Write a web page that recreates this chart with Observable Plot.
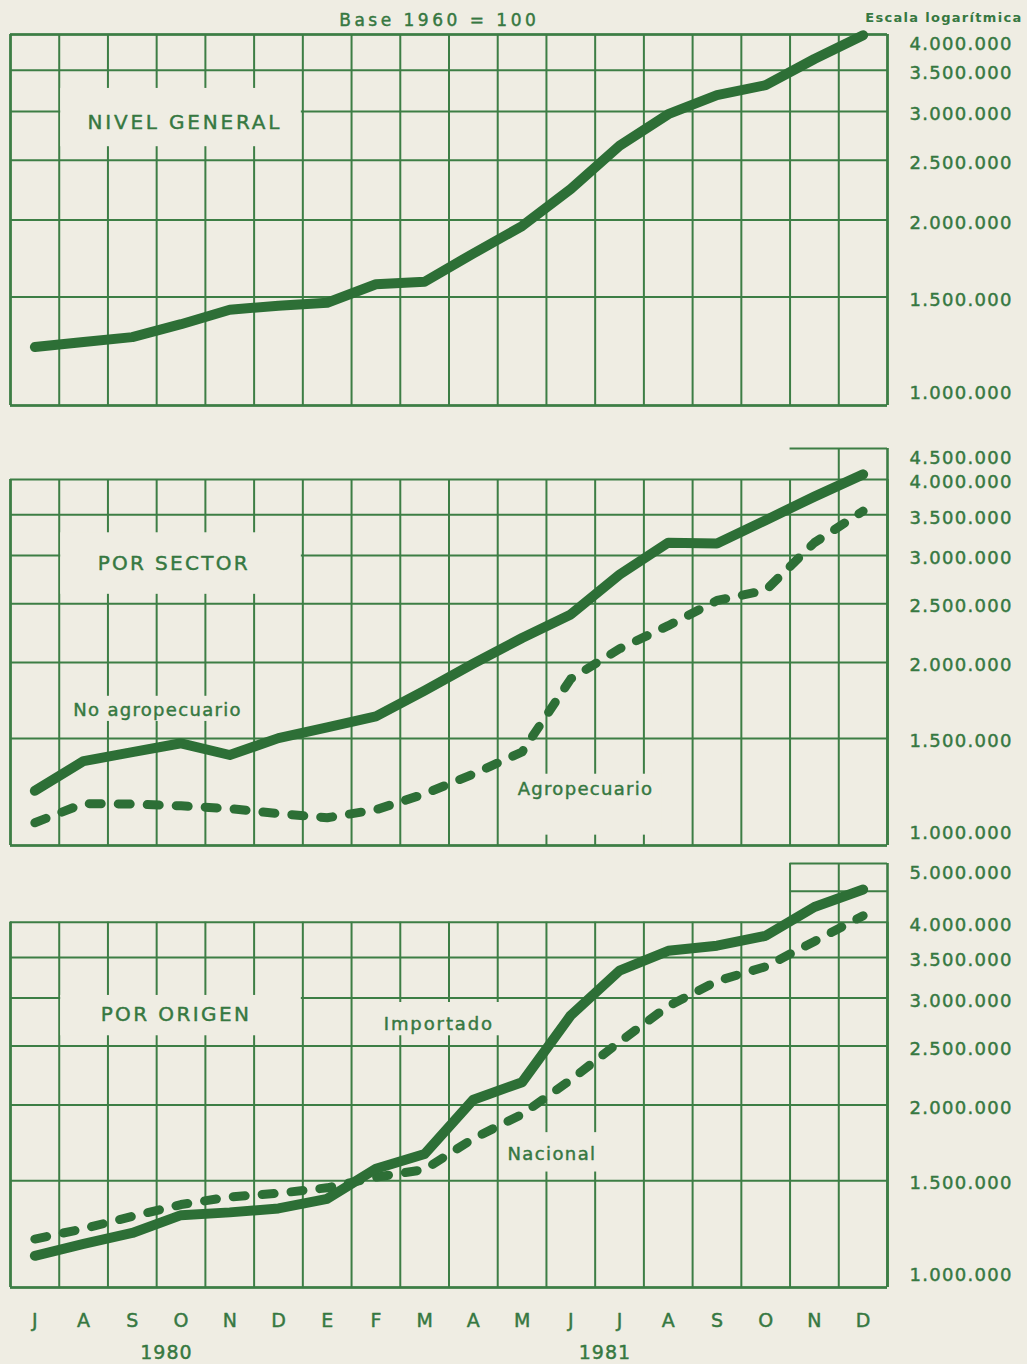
<!DOCTYPE html>
<html><head><meta charset="utf-8">
<script src="https://cdn.jsdelivr.net/npm/d3@7"></script>
<script src="https://cdn.jsdelivr.net/npm/@observablehq/plot@0.6"></script>
<style>
html,body{margin:0;padding:0;background:#efede3;}
#chart{width:1027px;}
#chart svg{display:block;}
</style></head><body><div id="chart"></div>
<script>
// ---- data ----
const months = ["J","A","S","O","N","D","E","F","M","A","M","J","J","A","S","O","N","D"];
const years = ["1980","1981"];
const monthsPerYear = [6, 12];

const nivelGeneral   = [1244000,1268000,1291000,1355000,1430000,1452000,1468000,1573000,1588000,1765000,1955000,2245000,2640000,2970000,3190000,3310000,3650000,3990000];
const noAgropecuario = [1230000,1377000,1424000,1473000,1409000,1502000,1565000,1631000,1798000,1991000,2195000,2400000,2790000,3150000,3140000,3430000,3750000,4080000];
const agropecuario   = [1090000,1172000,1170000,1162000,1150000,1128000,1111000,1145000,1216000,1311000,1425000,1880000,2107000,2300000,2530000,2630000,3150000,3550000];
const importado      = [1128000,1180000,1230000,1316000,1330000,1350000,1400000,1570000,1660000,2040000,2180000,2810000,3330000,3590000,3660000,3800000,4240000,4530000];
const nacional       = [1202000,1250000,1310000,1370000,1410000,1430000,1460000,1520000,1565000,1760000,1930000,2200000,2540000,2910000,3200000,3380000,3720000,4100000];

const ticks1 = [1000000,1500000,2000000,2500000,3000000,3500000,4000000];
const ticks2 = [1000000,1500000,2000000,2500000,3000000,3500000,4000000,4500000];
const ticks3 = [1000000,1500000,2000000,2500000,3000000,3500000,4000000,5000000];

// ---- style ----
const BG = "#efede3", GRID = "#3d7e45", LINE = "#2d6f36", TXT = "#367841";
const FONT = "DejaVu Sans, sans-serif";
const TW = 0.45; // text stroke to thicken the lettering
const N = months.length;
const cols = d3.range(N + 1);
const fmt = d3.formatLocale({decimal: ",", thousands: ".", grouping: [3], currency: ["", ""]}).format(",d");
const xi = (d, i) => i + 0.5;
const txt = {fill: TXT, stroke: TXT, strokeWidth: TW, fontFamily: FONT};

function tickLabels(ticks) {
  const lo = ticks[0], hi = ticks[ticks.length - 1];
  const c = {...txt, x: N, y: d => d, text: d => fmt(d), dx: 22, textAnchor: "start", fontSize: 18};
  return [
    Plot.text(ticks.filter(t => t === lo), {...c, dy: -12}),
    Plot.text(ticks.filter(t => t > lo && t < hi), {...c, dy: 3}),
    Plot.text(ticks.filter(t => t === hi), {...c, dy: 10})
  ];
}
function grid(values, x1, x2, w = 2) {
  return Plot.ruleY(values, {x1, x2, y: d => d, stroke: GRID, strokeWidth: w});
}
function verticals(cs, top) {
  return Plot.ruleX(cs, {x: d => d, y1: 1000000, y2: top, stroke: GRID, strokeWidth: 2});
}
function frameEdges(top) {
  return [
    Plot.ruleX([0, N], {x: d => d, y1: 1000000, y2: top, stroke: GRID, strokeWidth: 2.6}),
    Plot.ruleY([1000000], {x1: 0, x2: N, y: d => d, stroke: GRID, strokeWidth: 2.6})
  ];
}
function blank(x1, x2, y1, y2) {
  return Plot.rect([0], {x1, x2, y1, y2, fill: BG, insetLeft: 1.5, insetRight: 1.5});
}
function label(t, x, y, size = 18) {
  return Plot.text([t], {...txt, x, y, text: d => d, textAnchor: "start", fontSize: size});
}
function solid(data) {
  return Plot.line(data, {x: xi, y: d => d, stroke: LINE, strokeWidth: 10, strokeLinecap: "round", strokeLinejoin: "round"});
}
function dashed(data) {
  return Plot.line(data, {x: xi, y: d => d, stroke: LINE, strokeWidth: 9, strokeLinecap: "round", strokeLinejoin: "round", strokeDasharray: "12,17"});
}
function base(height, mt, mb, top, marks) {
  return Plot.plot({
    width: 1027, height, marginLeft: 10, marginRight: 140, marginTop: mt, marginBottom: mb,
    style: {background: BG, fontFamily: FONT, overflow: "visible"},
    x: {domain: [0, N], axis: null},
    y: {type: "log", domain: [1000000, top], axis: null},
    marks
  });
}

// ---- panel 1 ----
const p1 = base(430, 34, 25, 4000000, [
  grid(ticks1, 0, N),
  verticals(cols, 4000000),
  ...frameEdges(4000000),
  grid([4000000], 0, N, 2.6),
  blank(1, 6, 2630000, 3270000),
  label("NIVEL GENERAL", 1.58, 2880000, 20),
  solid(nivelGeneral),
  ...tickLabels(ticks1),
  Plot.text(["Base 1960 = 100"], {...txt, x: 8.8, y: 4000000, dy: -14, text: d => d, fontSize: 17}),
  Plot.text(["Escala logarítmica"], {...txt, stroke: null, x: N, y: 4000000, dx: 135, dy: -17, text: d => d, textAnchor: "end", fontSize: 13, fontWeight: "bold"})
]);

// ---- panel 2 ----
const p2 = base(425, 18, 10, 4500000, [
  grid(ticks2.filter(t => t < 4500000), 0, N),
  grid([4500000], N - 2, N),
  verticals(cols.filter(c => c < N - 1), 4000000),
  verticals([N - 1], 4500000),
  ...frameEdges(4000000),
  Plot.ruleX([N], {x: d => d, y1: 1000000, y2: 4500000, stroke: GRID, strokeWidth: 2.6}),
  blank(1, 6, 2590000, 3270000),
  blank(1.2, 4.9, 1600000, 1760000),
  blank(10.3, 13.4, 1040000, 1310000),
  label("POR SECTOR", 1.79, 2910000, 20),
  label("No agropecuario", 1.29, 1670000),
  label("Agropecuario", 10.41, 1239000),
  dashed(agropecuario),
  solid(noAgropecuario),
  ...tickLabels(ticks2)
]);

// ---- panel 3 ----
const yearStarts = d3.cumsum([0, ...monthsPerYear]);
const yearCenters = years.map((y, i) => yearStarts[i] + monthsPerYear[i] / 2);
const p3 = base(509, 8, 77, 5000000, [
  grid(ticks3.filter(t => t <= 4000000), 0, N),
  grid([4500000, 5000000], N - 2, N),
  verticals(cols.filter(c => c < N - 2), 4000000),
  verticals([N - 2, N - 1], 5000000),
  ...frameEdges(4000000),
  Plot.ruleX([N], {x: d => d, y1: 1000000, y2: 5000000, stroke: GRID, strokeWidth: 2.6}),
  blank(1, 6, 2600000, 3030000),
  blank(7.6, 10.1, 2600000, 2950000),
  blank(10.2, 12.1, 1550000, 1800000),
  label("POR ORIGEN", 1.85, 2820000, 20),
  label("Importado", 7.66, 2720000),
  label("Nacional", 10.2, 1660000),
  dashed(nacional),
  solid(importado),
  ...tickLabels(ticks3),
  Plot.text(months, {...txt, x: xi, y: 1000000, dy: 33, text: d => d, fontSize: 19}),
  Plot.text(years, {...txt, x: (d, i) => yearCenters[i] + 0.2, y: 1000000, dy: 65, text: d => d, fontSize: 19})
]);

// letter spacing to mimic the wide lettering of the original
const spacing = new Map([
  ["Base 1960 = 100", "3.5px"], ["Escala logarítmica", "1.3px"],
  ["NIVEL GENERAL", "2.8px"], ["POR SECTOR", "2.3px"], ["POR ORIGEN", "2.4px"],
  ["No agropecuario", "1.3px"], ["Agropecuario", "1.3px"], ["Importado", "1.9px"], ["Nacional", "1.4px"],
  ["1980", "1px"], ["1981", "1px"]
]);
const chart = document.getElementById("chart");
for (const svg of [p1, p2, p3]) {
  svg.querySelectorAll("text").forEach(t => {
    const s = spacing.get(t.textContent) || (/^\d\.\d{3}\.\d{3}$/.test(t.textContent) ? "1.3px" : null);
    if (s) t.style.letterSpacing = s;
  });
  chart.appendChild(svg);
}
</script>
</body></html>
